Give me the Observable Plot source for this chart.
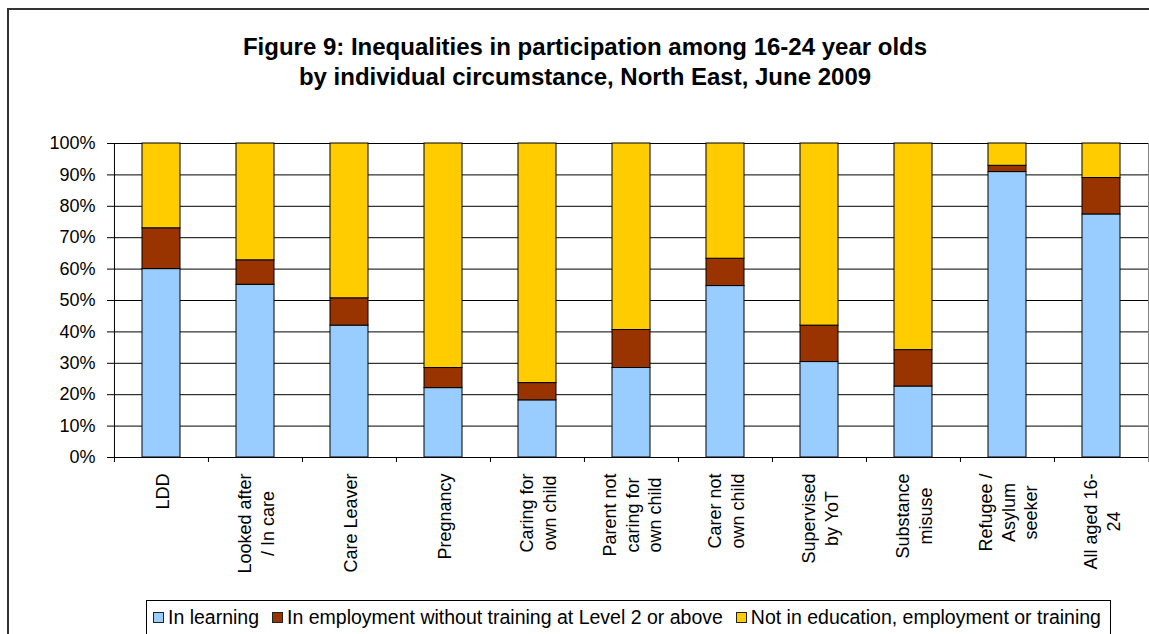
<!DOCTYPE html>
<html>
<head>
<meta charset="utf-8">
<script src="https://cdn.jsdelivr.net/npm/d3@7"></script>
<script src="https://cdn.jsdelivr.net/npm/@observablehq/plot@0.6"></script>
<style>
  html, body { margin: 0; padding: 0; background: #fff; overflow: hidden; width: 1149px; height: 634px; }
  body { font-family: "Liberation Sans", Arial, sans-serif; color: #000; }
  #frame { position: absolute; left: 7px; top: 8px; width: 1170px; height: 700px; border: 2px solid #333; }
  #title { position: absolute; left: 8px; width: 1154px; top: 32px; text-align: center; font-weight: bold; font-size: 24px; line-height: 30px; }
  #chart { position: absolute; left: 0; top: 100px; }
  #legend { position: absolute; left: 146px; top: 600px; width: 965px; height: 40px; box-sizing: border-box; border: 1px solid #000; background: #fff;
            display: flex; align-items: flex-start; padding: 5px 0 0 6px; font-size: 19.5px; white-space: nowrap; }
  #legend .item { display: flex; align-items: center; margin-right: 13px; }
  #legend .sw { width: 9px; height: 9px; border: 1px solid #222; margin-right: 4px; }
</style>
</head>
<body>
<div id="frame"></div>
<div id="title">Figure 9: Inequalities in participation among 16-24 year olds<br>by individual circumstance, North East, June 2009</div>
<div id="chart"></div>
<div id="legend"></div>
<script>
const categories = ["LDD", "Looked after / In care", "Care Leaver", "Pregnancy", "Caring for own child",
  "Parent not caring for own child", "Carer not own child", "Supervised by YoT", "Substance misuse",
  "Refugee / Asylum seeker", "All aged 16-24"];
const tickLabels = ["LDD", "Looked after\n/ In care", "Care Leaver", "Pregnancy", "Caring for\nown child",
  "Parent not\ncaring for\nown child", "Carer not\nown child", "Supervised\nby YoT", "Substance\nmisuse",
  "Refugee /\nAsylum\nseeker", "All aged 16-\n24"];
const series = ["In learning", "In employment without training at Level 2 or above", "Not in education, employment or training"];
const colors = ["#99CCFF", "#993300", "#FFCC00"];
const inLearning   = [60.0, 55.0, 42.0, 22.1, 18.2, 28.5, 54.6, 30.4, 22.6, 90.9, 77.4];
const inEmployment = [13.0,  7.8,  8.7,  6.4,  5.5, 12.1,  8.7, 11.6, 11.6,  2.0, 11.6];
const notInEET     = [27.0, 37.2, 49.3, 71.5, 76.3, 59.4, 36.7, 58.0, 65.8,  7.1, 11.0];
const yTicks = [0, 10, 20, 30, 40, 50, 60, 70, 80, 90, 100];

const seriesValues = [inLearning, inEmployment, notInEET];
const rows = categories.flatMap((c, i) => series.map((s, j) => ({category: c, series: s, value: seriesValues[j][i]})));

const W = 1149, H = 500, mL = 113, mR = 1, mT = 43, mB = 143;
const step = (W - mL - mR) / categories.length;
const last = categories[categories.length - 1];

const plot = Plot.plot({
  width: W, height: H,
  marginLeft: mL, marginRight: mR, marginTop: mT, marginBottom: mB,
  style: {fontFamily: "'Liberation Sans', Arial, sans-serif", fontSize: "18px", color: "#000", background: "transparent", overflow: "visible"},
  x: {type: "band", domain: categories, paddingInner: 0.6, paddingOuter: 0.3, axis: null, label: null},
  y: {domain: [0, 100], axis: null, label: null},
  color: {domain: series, range: colors},
  marks: [
    Plot.ruleY(yTicks, {stroke: "#000", strokeWidth: 1}),
    Plot.barY(rows, Plot.stackY({x: "category", y: "value", z: "series", fill: "series", stroke: "#000", strokeWidth: 1})),
    Plot.ruleX([last], {x: d => d, dx: step / 2, y1: -1.6, y2: 100, stroke: "#808080"}),
    Plot.ruleX(categories.slice(1), {x: d => d, dx: -step / 2, y1: -1.6, y2: 0, stroke: "#000"}),
    Plot.ruleX([categories[0]], {x: d => d, dx: -step / 2, y1: -1.6, y2: 100, stroke: "#000"}),
    Plot.axisY({ticks: yTicks, tickSize: 6, tickPadding: 12, label: null, tickFormat: d => d + "%"}),
    Plot.axisX({tickSize: 0, tickPadding: 16, rotate: -90, textAnchor: "middle", lineAnchor: "middle", lineHeight: 1.25, label: null,
      tickFormat: d => tickLabels[categories.indexOf(d)]})
  ]
});

document.getElementById("chart").append(plot);

// Excel-style: lines centred on each other, block aligned to the top
plot.querySelectorAll('g[aria-label="x-axis tick label"] text').forEach(t => {
  const spans = t.querySelectorAll("tspan");
  const maxLen = spans.length ? Math.max(...Array.from(spans, s => s.getComputedTextLength())) : t.getComputedTextLength();
  const tr = t.getAttribute("transform") || "";
  t.setAttribute("transform", tr + ` translate(${-maxLen / 2},0)`);
});

const legend = document.getElementById("legend");
series.forEach((s, i) => {
  const item = document.createElement("div");
  item.className = "item";
  const sw = document.createElement("div");
  sw.className = "sw";
  sw.style.background = colors[i];
  const label = document.createElement("span");
  label.textContent = s;
  item.append(sw, label);
  legend.append(item);
});
</script>
</body>
</html>
